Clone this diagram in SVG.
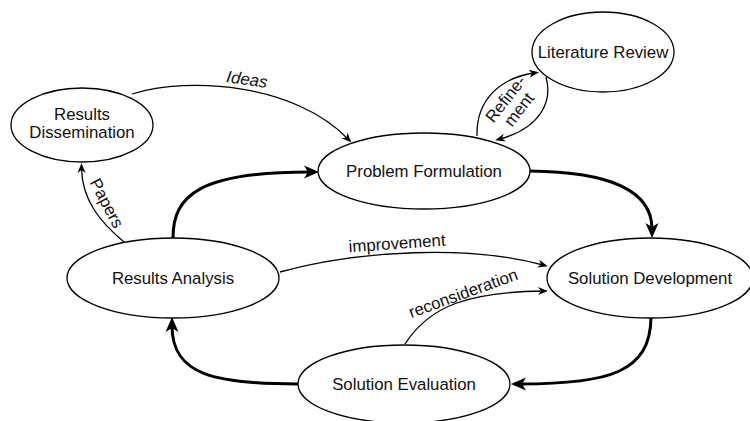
<svg xmlns="http://www.w3.org/2000/svg" width="750" height="421" viewBox="0 0 750 421">
  <style>
    .node ellipse { fill: #ffffff; stroke: #000000; stroke-width: 1.3; }
    .node text, .label { font-family: "Liberation Sans", Arial, Helvetica, sans-serif; font-size: 16.8px; fill: #111111; text-anchor: middle; }
    .thin { fill: none; stroke: #000000; stroke-width: 1.3; marker-end: url(#headThin); }
    .thick { fill: none; stroke: #000000; stroke-width: 3; marker-end: url(#headThick); }
  </style>
  <defs>
    <marker id="headThin" markerUnits="userSpaceOnUse" markerWidth="10" markerHeight="8" refX="5" refY="4" orient="auto" overflow="visible">
      <path d="M0,0 L10,4 L0,8 L3,4 Z" fill="#000000"/>
    </marker>
    <marker id="headThick" markerUnits="userSpaceOnUse" markerWidth="15" markerHeight="13" refX="6" refY="6.5" orient="auto" overflow="visible">
      <path d="M0,0 L15,6.5 L0,13 L4,6.5 Z" fill="#000000"/>
    </marker>
  </defs>
  <rect width="750" height="421" fill="#ffffff"/>

  <!-- connectors -->
  <g id="connectors">
    <path class="thin" d="M132,94 C190,76 295,84 348,139"/>
    <path class="thin" d="M477,136 C476,100 500,78 534,73"/>
    <path class="thin" d="M546,77 C553,102 540,128 500,139"/>
    <path class="thick" d="M173,238 C173,195 200,172 310,172"/>
    <path class="thick" d="M530,171 C610,172 652,190 652,229"/>
    <path class="thick" d="M651,318 C650,372 610,384 520,384"/>
    <path class="thick" d="M298,384 C215,384 172,375 172,326"/>
    <path class="thin" d="M124,242 C100,222 82,200 81.5,168"/>
    <path class="thin" d="M280,272 C360,250 470,245 543,265"/>
    <path class="thin" d="M405,344 C430,305 470,292 543,291"/>

    <text class="label" font-style="italic" transform="translate(247,79) rotate(8)" x="0" y="6">Ideas</text>
    <text class="label" transform="translate(512,104) rotate(-52)"><tspan x="0" y="-2.5">Refine-</tspan><tspan x="0" y="14.5">ment</tspan></text>
    <text class="label" transform="translate(107,203) rotate(62)" x="0" y="6">Papers</text>
    <text class="label" transform="translate(397,243) rotate(-4)" x="0" y="6">improvement</text>
    <text class="label" transform="translate(463,293) rotate(-20)" x="0" y="6">reconsideration</text>
  </g>

  <g id="literature-review" class="node">
    <ellipse cx="603" cy="52" rx="71" ry="40"/>
    <text x="603" y="58">Literature Review</text>
  </g>
  <g id="results-dissemination" class="node">
    <ellipse cx="82" cy="125" rx="71" ry="37"/>
    <text x="82" y="120">Results</text>
    <text x="82" y="138">Dissemination</text>
  </g>
  <g id="problem-formulation" class="node">
    <ellipse cx="424" cy="171" rx="106" ry="38"/>
    <text x="424" y="177">Problem Formulation</text>
  </g>
  <g id="results-analysis" class="node">
    <ellipse cx="173" cy="278" rx="106" ry="40"/>
    <text x="173" y="284">Results Analysis</text>
  </g>
  <g id="solution-development" class="node">
    <ellipse cx="650" cy="278" rx="103" ry="40"/>
    <text x="650" y="284">Solution Development</text>
  </g>
  <g id="solution-evaluation" class="node">
    <ellipse cx="404" cy="384" rx="106" ry="39"/>
    <text x="404" y="390">Solution Evaluation</text>
  </g>
</svg>
